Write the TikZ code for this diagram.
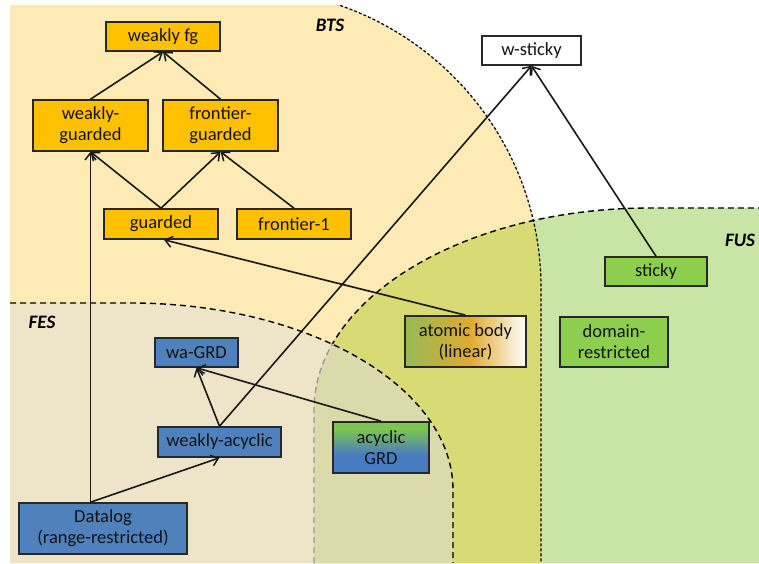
\documentclass[tikz,border=0pt]{standalone}
\usepackage{fontspec}
\setmainfont{Carlito}
\usetikzlibrary{arrows.meta,calc}
\definecolor{btsC}{RGB}{253,234,181}
\definecolor{fusC}{RGB}{200,229,166}
\definecolor{btsfusC}{RGB}{216,218,116}
\definecolor{fesC}{RGB}{238,228,200}
\definecolor{fesfusC}{RGB}{218,218,170}
\definecolor{orangeC}{RGB}{255,192,0}
\definecolor{blueC}{RGB}{79,129,189}
\definecolor{greenC}{RGB}{140,206,78}
\definecolor{atomL}{RGB}{150,186,84}
\definecolor{atomM}{RGB}{224,170,48}
\definecolor{acyG}{RGB}{125,196,82}
\definecolor{acyB}{RGB}{72,124,192}
\definecolor{edgeC}{RGB}{40,40,40}
\definecolor{textC}{RGB}{20,20,20}
\pgfdeclarehorizontalshading{atomshade}{100bp}{color(0bp)=(atomL); color(25bp)=(atomL); color(52bp)=(atomM); color(75bp)=(white); color(100bp)=(white)}
\pgfdeclareverticalshading{acyshade}{100bp}{color(0bp)=(acyB); color(25bp)=(acyB); color(43bp)=(acyB); color(68bp)=(acyG); color(75bp)=(acyG); color(100bp)=(acyG)}
\begin{document}
\begin{tikzpicture}[x=1pt,y=1pt,
  box/.style={draw=edgeC, line width=1.6pt, inner sep=0pt, align=center, text=textC,
    font=\fontsize{18.5}{21}\selectfont},
  obox/.style={box, fill=orangeC},
  bbox/.style={box, fill=blueC},
  gbox/.style={box, fill=greenC},
  wbox/.style={box, fill=white},
  lab/.style={font=\fontsize{19}{21}\selectfont\bfseries\itshape},
  arr/.style={line width=1.6pt, draw=black!90, -{Straight Barb[length=7pt,width=11pt,line width=1.5pt]}},
  btsline/.style={line width=1.2pt, dash pattern=on 3pt off 2pt},
  fusline/.style={line width=1.4pt, dash pattern=on 6pt off 4pt},
  fesline/.style={line width=1.4pt, dash pattern=on 6pt off 4pt}]
\useasboundingbox (0,0) rectangle (759,563);
\begin{scope}
\clip (10,0) rectangle (759,557);
\fill[btsC] (10,0) -- (10,574) -- (242,574) arc[start angle=90,end angle=0,radius=299] -- (541,0) -- cycle;
\fill[fusC] (314,0) -- (314,153) arc[start angle=180,end angle=90,x radius=336,y radius=202] -- (759,355) -- (759,0) -- cycle;
\begin{scope}
\clip (10,0) -- (10,574) -- (242,574) arc[start angle=90,end angle=0,radius=299] -- (541,0) -- cycle;
\fill[btsfusC] (314,0) -- (314,153) arc[start angle=180,end angle=90,x radius=336,y radius=202] -- (759,355) -- (759,0) -- cycle;
\end{scope}
\draw[btsline] (242,574) arc[start angle=90,end angle=0,radius=299] -- (541,0);
\draw[fusline] (314,0) -- (314,153) arc[start angle=180,end angle=90,x radius=336,y radius=202] -- (760,355);
\fill[fesC] (10,0) -- (10,260) -- (130,260) arc[start angle=90,end angle=0,x radius=323,y radius=187] -- (453,0) -- cycle;
\begin{scope}
\clip (10,0) -- (10,260) -- (130,260) arc[start angle=90,end angle=0,x radius=323,y radius=187] -- (453,0) -- cycle;
\fill[fesfusC] (314,0) -- (314,153) arc[start angle=180,end angle=90,x radius=336,y radius=202] -- (759,355) -- (759,0) -- cycle;
\draw[fusline, draw=gray!80] (314,0) -- (314,153) arc[start angle=180,end angle=90,x radius=336,y radius=202] -- (759,355);
\end{scope}
\draw[fesline] (10,260) -- (130,260) arc[start angle=90,end angle=0,x radius=323,y radius=187] -- (453,0);
\end{scope}

\node[lab] (bts) at (330,538) {BTS};
\node[lab] (fus) at (740,323) {FUS};
\node[lab] (fes) at (42,241) {FES};

\node[obox, minimum width=114pt, minimum height=29pt] (wfg) at (163,526.5) {weakly fg};
\node[obox, minimum width=115pt, minimum height=51pt] (wg) at (90.5,437.5) {weakly-\\guarded};
\node[obox, minimum width=115pt, minimum height=51pt] (fg) at (220.5,437.5) {frontier-\\guarded};
\node[obox, minimum width=114pt, minimum height=30pt] (gu) at (161,339) {guarded};
\node[obox, minimum width=114pt, minimum height=30pt] (f1) at (294,339) {frontier-1};
\node[wbox, minimum width=99pt, minimum height=29pt] (ws) at (531.5,512.5) {w-sticky};
\node[gbox, minimum width=102pt, minimum height=29pt] (st) at (656,291.5) {sticky};
\node[box, shading=atomshade, minimum width=121pt, minimum height=51pt] (ab) at (465.5,221.5) {atomic body\\(linear)};
\node[gbox, minimum width=108pt, minimum height=50pt] (dr) at (614,221) {domain-\\restricted};
\node[box, shading=acyshade, minimum width=96pt, minimum height=51pt] (ag) at (381,115.5) {acyclic\\GRD};
\node[bbox, minimum width=83pt, minimum height=29pt] (wa) at (196.5,210.5) {wa-GRD};
\node[bbox, minimum width=123pt, minimum height=30pt] (wac) at (219.5,121) {weakly-acyclic};
\node[bbox, minimum width=168pt, minimum height=51pt] (dl) at (103,34.5) {Datalog\\(range-restricted)};

\draw[arr] (wg.north) -- (wfg.south);
\draw[arr] (fg.north) -- (wfg.south);
\draw[arr] (gu.north) -- (wg.south);
\draw[arr] (gu.north) -- (fg.south);
\draw[arr] (f1.north) -- (fg.south);
\draw[arr] (dl.north -| wg.south) -- (wg.south);
\draw[arr] (dl.north -| wg.south) -- (wac.south);
\draw[arr] (wac.north) -- (wa.south);
\draw[arr] (wac.north) -- (ws.south);
\draw[arr] (ag.north) -- (wa.south);
\draw[arr] (ab.north) -- ($(gu.south)+(3,0)$);
\draw[arr] (st.north) -- (ws.south);
\end{tikzpicture}
\end{document}
